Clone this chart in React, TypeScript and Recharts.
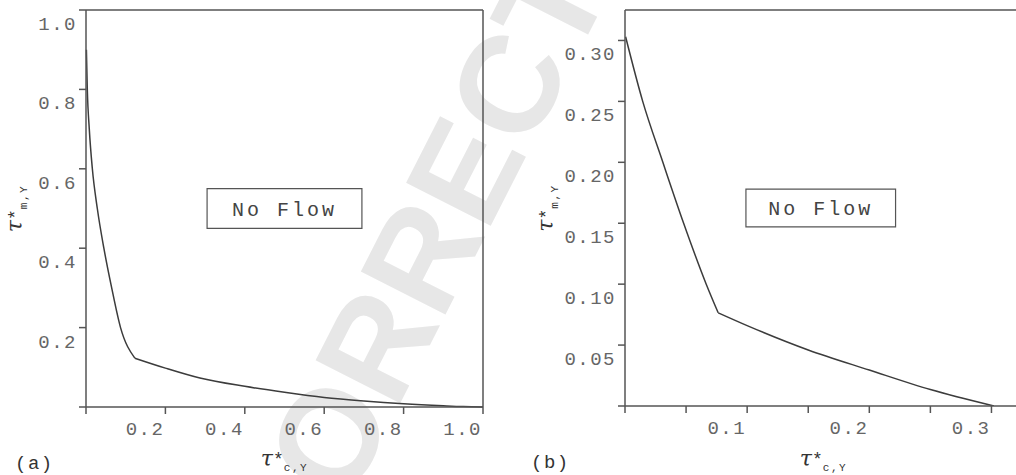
import { LineChart, Line, XAxis, YAxis, ReferenceLine, ReferenceArea } from 'recharts';

// panel (a)
const leftSteepX = [0.001, 0.0033, 0.0083, 0.016, 0.0285, 0.045, 0.0647, 0.087, 0.123];
const leftSteepY = [0.9, 0.8, 0.7, 0.6, 0.5, 0.4, 0.3, 0.2, 0.123];
const leftTailX = [0.123, 0.2, 0.287, 0.4, 0.5, 0.6, 0.7, 0.8, 0.9, 0.95, 1.0];
const leftTailY = [0.123, 0.098, 0.073, 0.052, 0.037, 0.024, 0.015, 0.008, 0.003, 0.001, 0];
const leftXTicks = [0, 0.2, 0.4, 0.6, 0.8, 1.0];
const leftYTicks = [0, 0.2, 0.4, 0.6, 0.8, 1.0];

// panel (b)
const rightSteepX = [0.0005, 0.0145, 0.031, 0.048, 0.0665, 0.0763];
const rightSteepY = [0.303, 0.25, 0.2, 0.15, 0.1, 0.0765];
const rightTailX = [0.0763, 0.1, 0.15, 0.2, 0.25, 0.302];
const rightTailY = [0.0765, 0.066, 0.046, 0.0295, 0.0135, 0];
const rightXTicks = [0, 0.05, 0.1, 0.15, 0.2, 0.25, 0.3];
const rightXLabeled = ['0.1', '0.2', '0.3'];
const rightYTicks = [0, 0.05, 0.1, 0.15, 0.2, 0.25, 0.3];

const zip = (xs: number[], ys: number[]) => xs.map((x, i) => ({ x, y: ys[i] }));

const MONO = '"Liberation Mono", "DejaVu Sans Mono", monospace';
const AXIS = '#555';
const CURVE = '#3c3c3c';
const TICKTXT = '#666';

const tickText = {
  fontFamily: MONO,
  fontSize: 19,
  letterSpacing: 1.5,
  fill: TICKTXT,
};

function XTick(props: any) {
  const { x, y, payload, fmt } = props;
  const label = fmt(payload.value);
  if (!label) return <g />;
  return (
    <text x={x - 1} y={y + 19} textAnchor="end" {...tickText}>
      {label}
    </text>
  );
}

function YTick(props: any) {
  const { x, y, payload, fmt } = props;
  const label = fmt(payload.value);
  if (!label) return <g />;
  return (
    <text x={x} y={y + 20} textAnchor="end" {...tickText}>
      {label}
    </text>
  );
}

function Tau({ x, y, sub, rotate }: { x: number; y: number; sub: string; rotate?: boolean }) {
  return (
    <text
      x={x}
      y={y}
      textAnchor="middle"
      fill="#333"
      transform={rotate ? `rotate(-90, ${x}, ${y})` : undefined}
    >
      <tspan fontFamily='"DejaVu Serif", serif' fontStyle="italic" fontSize={22}>τ</tspan>
      <tspan fontFamily={MONO} fontSize={18} dy={-1}>*</tspan>
      <tspan fontFamily={MONO} fontSize={11} letterSpacing={1.5} dy={6}>{sub}</tspan>
    </text>
  );
}

function NoFlow(props: any) {
  const { viewBox } = props;
  const cx = viewBox.x + viewBox.width / 2;
  const cy = viewBox.y + viewBox.height / 2;
  return (
    <text x={cx} y={cy + 7} textAnchor="middle" fontFamily={MONO} fontSize={20} letterSpacing={3} fill="#444">
      No Flow
    </text>
  );
}

export default function App() {
  const fmt1 = (v: number) => (v === 0 ? '' : v.toFixed(1));
  const fmt2 = (v: number) => (v === 0 ? '' : v.toFixed(2));
  const fmtRx = (v: number) =>
    rightXLabeled.includes(v.toFixed(1)) && Math.abs(v * 10 - Math.round(v * 10)) < 1e-6 ? v.toFixed(1) : '';

  return (
    <div style={{ position: 'fixed', left: 0, top: 0, width: 1016, height: 475, overflow: 'hidden', background: '#fff' }}>
      <svg width={1016} height={475} style={{ position: 'absolute', left: 0, top: 0 }}>
        <text
          x={302}
          y={596}
          transform="rotate(-63, 302, 596)"
          fontFamily='"Liberation Sans", Arial, sans-serif'
          fontWeight="bold"
          fontSize={138}
          fill="#e7e7e7"
        >
          CORRECTED
        </text>
        <text x={15} y={469} fontFamily={MONO} fontSize={19} letterSpacing={1.5} fill="#333">(a)</text>
        <text x={531} y={468} fontFamily={MONO} fontSize={19} letterSpacing={1.5} fill="#333">(b)</text>
      </svg>

      <div style={{ position: 'absolute', left: 0, top: 0 }}>
        <LineChart width={500} height={475} margin={{ top: 10, right: 17, bottom: 38, left: 26 }}>
          <XAxis
            dataKey="x"
            type="number"
            domain={[0, 1]}
            ticks={leftXTicks}
            interval={0}
            height={30}
            tickSize={7}
            stroke={AXIS}
            strokeWidth={1.5}
            tick={(p: any) => <XTick {...p} fmt={fmt1} />}
            label={{ content: (p: any) => <Tau x={p.viewBox.x + p.viewBox.width / 2} y={466} sub="c,Y" /> }}
          />
          <YAxis
            dataKey="y"
            type="number"
            domain={[0, 1]}
            ticks={leftYTicks}
            interval={0}
            width={60}
            tickSize={7}
            stroke={AXIS}
            strokeWidth={1.5}
            tick={(p: any) => <YTick {...p} fmt={fmt1} />}
            label={{ content: (p: any) => <Tau x={22} y={p.viewBox.y + p.viewBox.height / 2} sub="m,Y" rotate /> }}
          />
          <ReferenceLine y={1} stroke={AXIS} strokeWidth={1.5} />
          <ReferenceLine x={1} stroke={AXIS} strokeWidth={1.5} />
          <ReferenceArea
            x1={0.305}
            x2={0.695}
            y1={0.45}
            y2={0.55}
            fill="#fff"
            fillOpacity={1}
            stroke={AXIS}
            strokeWidth={1.2}
            label={{ content: (p: any) => <NoFlow {...p} /> }}
          />
          <Line data={zip(leftSteepX, leftSteepY)} dataKey="y" type="monotone" stroke={CURVE} strokeWidth={1.5} dot={false} isAnimationActive={false} />
          <Line data={zip(leftTailX, leftTailY)} dataKey="y" type="monotone" stroke={CURVE} strokeWidth={1.5} dot={false} isAnimationActive={false} />
        </LineChart>
      </div>

      <div style={{ position: 'absolute', left: 525, top: 0 }}>
        <LineChart width={510} height={475} margin={{ top: 10, right: 13, bottom: 39, left: 40 }}>
          <XAxis
            dataKey="x"
            type="number"
            domain={[0, 0.325]}
            ticks={rightXTicks}
            interval={0}
            height={30}
            tickSize={7}
            stroke={AXIS}
            strokeWidth={1.5}
            allowDataOverflow
            tick={(p: any) => <XTick {...p} fmt={fmtRx} />}
            label={{ content: (p: any) => <Tau x={p.viewBox.x + p.viewBox.width / 2} y={466} sub="c,Y" /> }}
          />
          <YAxis
            dataKey="y"
            type="number"
            domain={[0, 0.325]}
            ticks={rightYTicks}
            interval={0}
            width={60}
            tickSize={7}
            stroke={AXIS}
            strokeWidth={1.5}
            allowDataOverflow
            tick={(p: any) => <YTick {...p} fmt={fmt2} />}
            label={{ content: (p: any) => <Tau x={28} y={p.viewBox.y + p.viewBox.height / 2} sub="m,Y" rotate /> }}
          />
          <ReferenceLine y={0.325} stroke={AXIS} strokeWidth={1.5} />
          <ReferenceArea
            x1={0.099}
            x2={0.2215}
            y1={0.147}
            y2={0.178}
            fill="#fff"
            fillOpacity={1}
            stroke={AXIS}
            strokeWidth={1.2}
            label={{ content: (p: any) => <NoFlow {...p} /> }}
          />
          <Line data={zip(rightSteepX, rightSteepY)} dataKey="y" type="monotone" stroke={CURVE} strokeWidth={1.5} dot={false} isAnimationActive={false} />
          <Line data={zip(rightTailX, rightTailY)} dataKey="y" type="monotone" stroke={CURVE} strokeWidth={1.5} dot={false} isAnimationActive={false} />
        </LineChart>
      </div>
    </div>
  );
}
